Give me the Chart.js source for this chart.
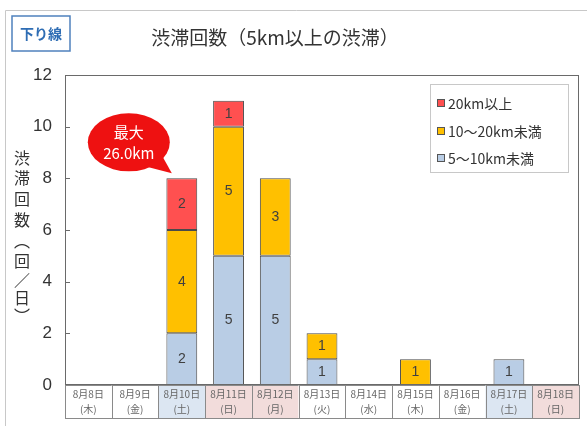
<!DOCTYPE html>
<html>
<head>
<meta charset="utf-8">
<script src="https://cdn.jsdelivr.net/npm/chart.js@4/dist/chart.umd.min.js"></script>
<style>
  body { margin: 0; background: #fff; }
  #wrap { width: 587px; height: 426px; }
</style>
</head>
<body>
<div id="wrap"><canvas id="myChart" width="587" height="426"></canvas></div>
<script>
// data
const dates = ["8月8日", "8月9日", "8月10日", "8月11日", "8月12日", "8月13日", "8月14日", "8月15日", "8月16日", "8月17日", "8月18日"];
const weekdays = ["木", "金", "土", "日", "月", "火", "水", "木", "金", "土", "日"];
const dayKind = ["", "", "sat", "hol", "hol", "", "", "", "", "sat", "hol"];
const jam5to10 = [0, 0, 2, 5, 5, 1, 0, 0, 0, 1, 0];
const jam10to20 = [0, 0, 4, 5, 3, 1, 0, 1, 0, 0, 0];
const jam20plus = [0, 0, 2, 1, 0, 0, 0, 0, 0, 0, 0];
const seriesNames = ["5～10km未満", "10～20km未満", "20km以上"];
const seriesColors = ["#B9CDE5", "#FFC000", "#FF5050"];
const yMin = 0, yMax = 12, yStep = 2;
const maxNote = ["最大", "26.0km"];

const jp = "'Noto Sans CJK JP', sans-serif";
const kindColor = { "": "#ffffff", sat: "#DCE6F2", hol: "#F2DCDB" };

const nz = arr => arr.map(v => (v === 0 ? null : v));

const decor = {
  id: "decor",
  afterDraw(chart) {
    const ctx = chart.ctx;
    const a = chart.chartArea;
    const x = chart.scales.x, y = chart.scales.y;
    ctx.save();

    // outer frame of the picture
    ctx.strokeStyle = "#c8c8c8";
    ctx.lineWidth = 1;
    ctx.beginPath();
    ctx.moveTo(5.5, 426); ctx.lineTo(5.5, 10.5); ctx.lineTo(587, 10.5);
    ctx.stroke();

    // plot frame + inner tick marks
    ctx.strokeStyle = "#6a6a6a";
    ctx.strokeRect(a.left + 0.5, a.top + 0.5, a.width - 1, a.height - 1);
    y.ticks.forEach(t => {
      const py = Math.round(y.getPixelForValue(t.value)) + 0.5;
      ctx.beginPath(); ctx.moveTo(a.left, py); ctx.lineTo(a.left + 5, py); ctx.stroke();
    });

    // category boxes under the plot
    const colW = x.getPixelForValue(1) - x.getPixelForValue(0);
    ctx.textAlign = "center";
    ctx.textBaseline = "middle";
    dates.forEach((d, i) => {
      const cx = x.getPixelForValue(i);
      const l = cx - colW / 2;
      ctx.fillStyle = kindColor[dayKind[i]];
      ctx.fillRect(l, a.bottom, colW, 33);
      ctx.strokeStyle = "#8a8a8a";
      ctx.strokeRect(Math.round(l) + 0.5, a.bottom + 0.5, Math.round(colW), 33);
      ctx.fillStyle = "#666";
      ctx.font = "10px " + jp;
      ctx.fillText(d, cx, a.bottom + 9);
      ctx.fillText("(" + weekdays[i] + ")", cx, a.bottom + 24);
    });

    // values inside the segments
    ctx.fillStyle = "#404040";
    ctx.font = "14px 'Liberation Sans', sans-serif";
    chart.data.datasets.forEach((ds, di) => {
      chart.getDatasetMeta(di).data.forEach((el, i) => {
        const v = ds.data[i];
        if (!v) return;
        ctx.fillText(String(v), el.x, (el.y + el.base) / 2);
      });
    });

    // legend box
    ctx.fillStyle = "#fff";
    ctx.fillRect(430, 84, 138, 88);
    ctx.strokeStyle = "#c8c8c8";
    ctx.strokeRect(430.5, 84.5, 138, 88);
    ctx.textAlign = "left";
    ctx.font = "14px " + jp;
    const rows = [103, 131, 158];
    [2, 1, 0].forEach((di, r) => {
      ctx.fillStyle = seriesColors[di];
      ctx.fillRect(437, rows[r] - 4, 8, 8);
      ctx.strokeStyle = "#555";
      ctx.strokeRect(437.5, rows[r] - 3.5, 7, 7);
      ctx.fillStyle = "#333";
      ctx.fillText(seriesNames[di], 448, rows[r] + 1);
    });

    // callout bubble near the 8/10 bar
    const bx = x.getPixelForValue(2) - 53;
    const by = y.getPixelForValue(8) - 36;
    ctx.fillStyle = "#EE1111";
    ctx.beginPath();
    ctx.ellipse(bx, by, 41, 29, 0, 0, Math.PI * 2);
    ctx.fill();
    ctx.beginPath();
    ctx.moveTo(bx + 16, by + 24);
    ctx.lineTo(bx + 33, by + 13);
    ctx.lineTo(bx + 43, by + 31);
    ctx.closePath();
    ctx.fill();
    ctx.fillStyle = "#fff";
    ctx.textAlign = "center";
    ctx.font = "15px " + jp;
    ctx.fillText(maxNote[0], bx, by - 10);
    ctx.fillText(maxNote[1], bx, by + 11);

    // direction tag
    ctx.fillStyle = "#fff";
    ctx.strokeStyle = "#4F81BD";
    ctx.lineWidth = 1.5;
    ctx.strokeRect(12, 16, 58, 35);
    ctx.fillStyle = "#2E6DB4";
    ctx.font = "bold 14px " + jp;
    ctx.fillText("下り線", 41, 34);

    // title
    ctx.fillStyle = "#333";
    ctx.font = "19px " + jp;
    ctx.fillText("渋滞回数（5km以上の渋滞）", 275, 38);

    // vertical y axis title
    ctx.font = "16px " + jp;
    const yt = ["渋", "滞", "回", "数", "︵", "回", "／", "日", "︶"];
    const ys = [158, 178, 199, 220, 241, 261, 280, 298, 316];
    yt.forEach((c, i) => ctx.fillText(c, 22, ys[i]));

    ctx.restore();
  }
};

const myChart = new Chart("myChart", {
  type: "bar",
  data: {
    labels: dates,
    datasets: [
      { label: seriesNames[0], data: nz(jam5to10), backgroundColor: seriesColors[0] },
      { label: seriesNames[1], data: nz(jam10to20), backgroundColor: seriesColors[1] },
      { label: seriesNames[2], data: nz(jam20plus), backgroundColor: seriesColors[2] },
    ].map(d => Object.assign(d, {
      borderColor: "#4a4a4a", borderWidth: 1, borderSkipped: false,
      categoryPercentage: 1, barPercentage: 0.66
    })),
  },
  options: {
    responsive: false,
    animation: false,
    layout: { padding: { left: 10, right: 8, top: 75, bottom: 41 } },
    plugins: { legend: { display: false }, tooltip: { enabled: false } },
    scales: {
      x: { stacked: true, display: false },
      y: {
        stacked: true,
        min: yMin, max: yMax,
        grid: { display: false, drawTicks: false },
        border: { display: false },
        ticks: { stepSize: yStep, padding: 13, color: "#333", font: { size: 17, family: "'Liberation Sans', sans-serif" } },
        afterFit: s => { s.width = 55; }
      }
    }
  },
  plugins: [decor]
});
</script>
</body>
</html>
